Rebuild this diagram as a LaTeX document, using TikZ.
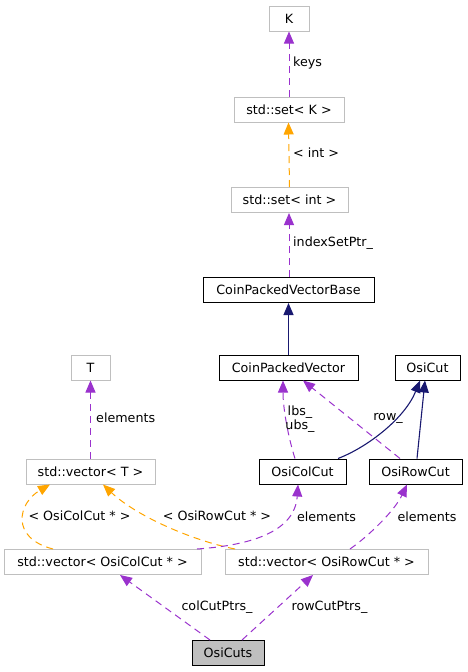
\documentclass[tikz,border=0pt]{standalone}
\usepackage{fontspec}
\setmainfont{DejaVu Sans}
\usetikzlibrary{arrows.meta}
\definecolor{dpurple}{HTML}{9A32CD}
\definecolor{dorange}{HTML}{FFA500}
\definecolor{dnavy}{HTML}{191970}
\definecolor{dgray}{HTML}{BFBFBF}
\begin{document}
\begin{tikzpicture}[x=1pt,y=-1pt,
  every node/.style={font=\fontsize{12.7}{15}\selectfont, inner sep=0pt},
  gbox/.style={draw=dgray, line width=1pt, minimum height=25pt, fill=white},
  bbox/.style={draw=black, line width=1pt, minimum height=25pt, fill=white},
  tip/.style={-{Triangle[length=12pt,width=10pt]}},
  pedge/.style={tip, draw=dpurple, line width=1pt, dash pattern=on 7pt off 5pt},
  oedge/.style={tip, draw=dorange, line width=1pt, dash pattern=on 7pt off 5pt},
  nedge/.style={tip, draw=dnavy, line width=1.1pt},
  lbl/.style={text=black, align=center}
]
\useasboundingbox (0,0) rectangle (467,672);

% nodes
\node[gbox, minimum width=40pt]  (K)      at (289,18.5)  {K};
\node[gbox, minimum width=110pt] (setK)   at (289,109.5) {std::set< K >};
\node[gbox, minimum width=117pt] (setint) at (289.5,200) {std::set< int >};
\node[bbox, minimum width=171pt] (CPVB)   at (288.5,290) {CoinPackedVectorBase};
\node[bbox, minimum width=139pt] (CPV)    at (288.5,367.5) {CoinPackedVector};
\node[bbox, minimum width=65pt]  (OsiCut) at (427.5,367.5) {OsiCut};
\node[gbox, minimum width=39pt]  (T)      at (90.5,367.5) {T};
\node[gbox, minimum width=129pt] (vecT)   at (90.5,471.5) {std::vector< T >};
\node[bbox, minimum width=87pt]  (ColCut) at (302.5,471.5) {OsiColCut};
\node[bbox, minimum width=93pt]  (RowCut) at (415.5,471.5) {OsiRowCut};
\node[gbox, minimum width=197pt] (vecCol) at (102.5,562) {std::vector< OsiColCut * >};
\node[gbox, minimum width=203pt] (vecRow) at (326.5,562) {std::vector< OsiRowCut * >};
\node[bbox, fill=dgray, minimum width=72pt] (Cuts) at (228,653) {OsiCuts};

% edges
\draw[pedge] (setK.north) -- (K.south);
\draw[oedge] (setint.north) -- ([xshift=-0.5pt]setK.south);
\draw[pedge] ([xshift=0.5pt]CPVB.north) -- ([xshift=-0.5pt]setint.south);
\draw[nedge] (CPV.north) -- (CPVB.south);
\draw[pedge] ([xshift=-7.5pt]ColCut.north) .. controls (289,440) and (283,410) .. ([xshift=-5.5pt]CPV.south);
\draw[pedge] ([xshift=-15.5pt]RowCut.north) -- ([xshift=14.5pt]CPV.south);
\draw[nedge] ([xshift=35.5pt]ColCut.north) .. controls (368,447) and (405,418) .. ([xshift=-7.5pt]OsiCut.south);
\draw[nedge] ([xshift=1.5pt]RowCut.north) -- ([xshift=-2.5pt]OsiCut.south);
\draw[pedge] (vecT.north) -- (T.south);
\draw[oedge] ([xshift=-49.5pt]vecCol.north) .. controls (10,538) and (18,503) .. ([xshift=-40.5pt]vecT.south);
\draw[oedge] ([xshift=-91.5pt]vecRow.north) .. controls (190,540) and (135,515) .. ([xshift=12.5pt]vecT.south);
\draw[pedge] ([xshift=94.5pt]vecCol.north) .. controls (255,545) and (295,530) .. ([xshift=-4.5pt]ColCut.south);
\draw[pedge] ([xshift=23.5pt]vecRow.north) .. controls (370,535) and (395,510) .. ([xshift=-8.5pt]RowCut.south);
\draw[pedge] ([xshift=-18pt]Cuts.north) -- ([xshift=17.5pt]vecCol.south);
\draw[pedge] ([xshift=14pt]Cuts.north) -- ([xshift=-13.5pt]vecRow.south);

% labels
\node[lbl, anchor=west] (lkeys) at (293,63) {keys};
\node[lbl, anchor=west] (lint) at (293,153) {< int >};
\node[lbl, anchor=west] (lidx) at (293,243) {indexSetPtr\_};
\node[lbl] (llbs) at (300,419.5) {lbs\_\\[-1pt]ubs\_};
\node[lbl] (lrow) at (388,418) {row\_};
\node[lbl, anchor=west] (lelT) at (96,418) {elements};
\node[lbl] (lcolT) at (79.5,516) {< OsiColCut * >};
\node[lbl] (lrowT) at (217,516) {< OsiRowCut * >};
\node[lbl] (lelC) at (326.5,517) {elements};
\node[lbl] (lelR) at (427,517) {elements};
\node[lbl] (lcp) at (217,607) {colCutPtrs\_};
\node[lbl] (lrp) at (329.5,607) {rowCutPtrs\_};
\end{tikzpicture}
\end{document}
